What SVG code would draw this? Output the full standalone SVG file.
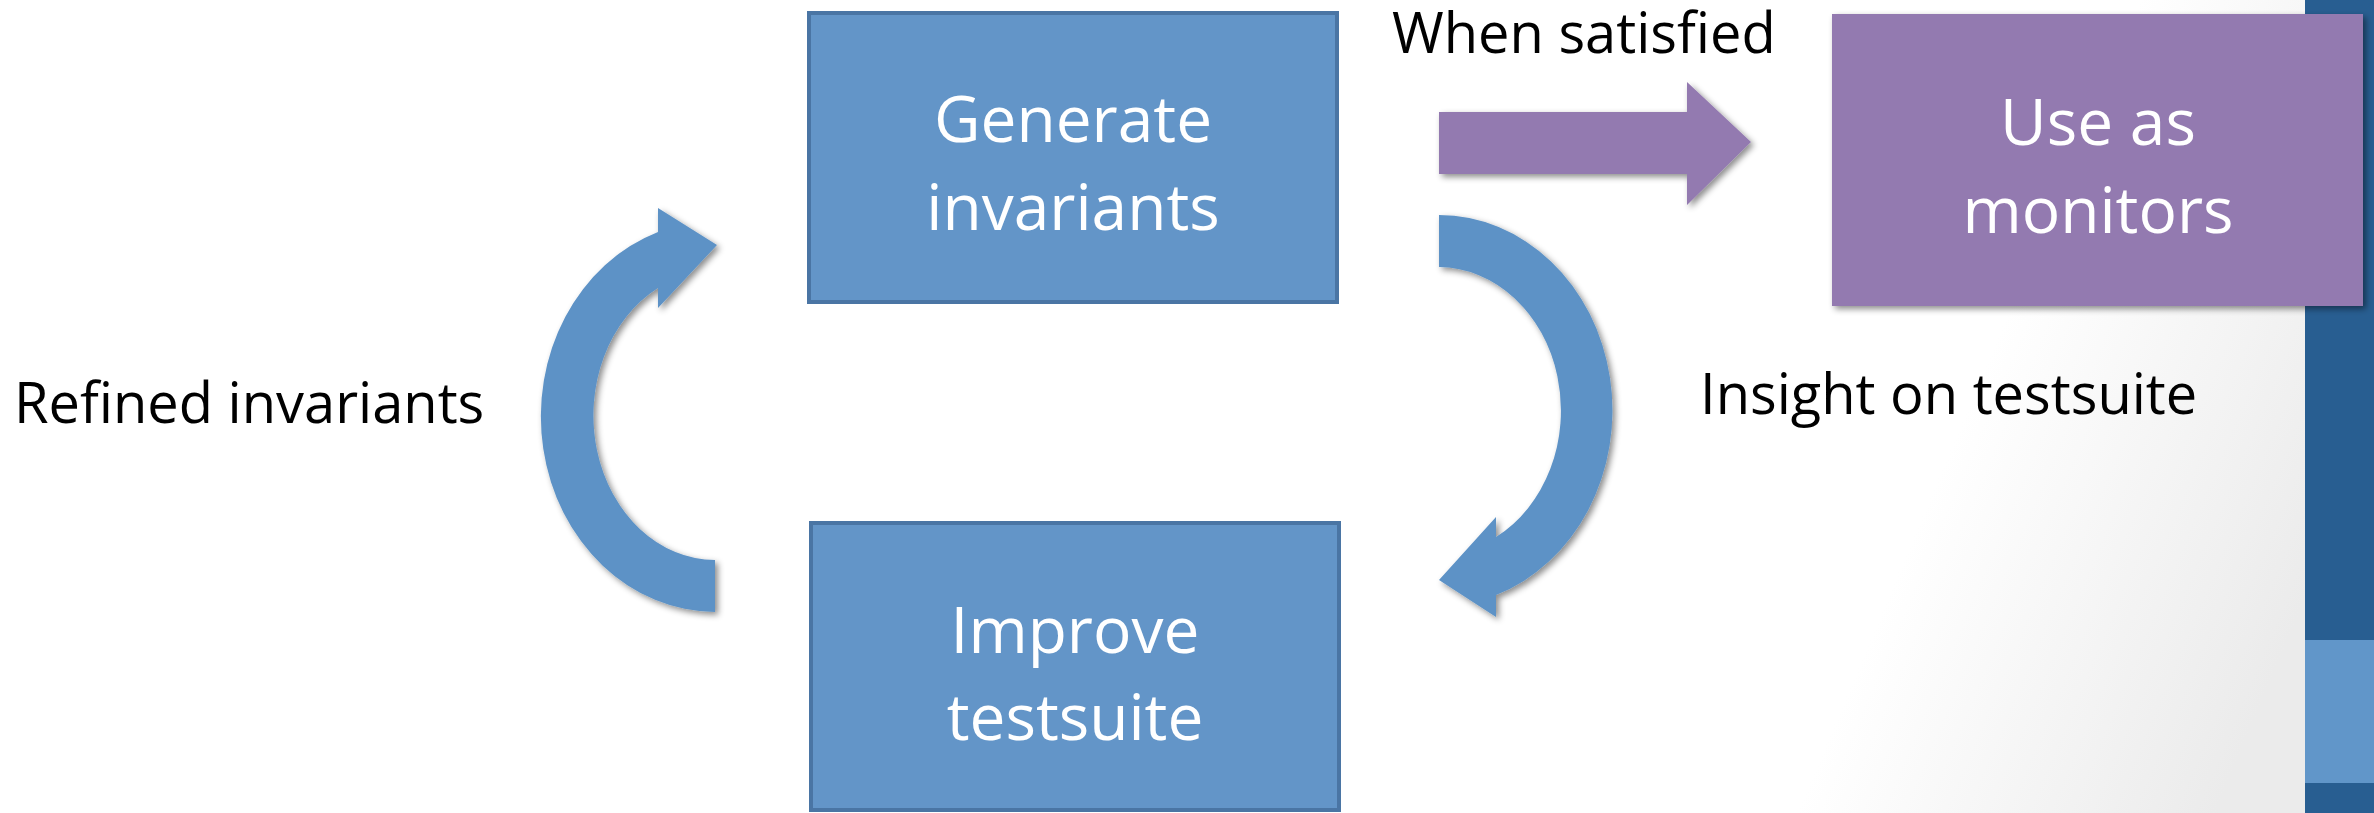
<svg xmlns="http://www.w3.org/2000/svg" width="2374" height="813" viewBox="0 0 2374 813">
  <defs>
    <linearGradient id="bgGrad" gradientUnits="userSpaceOnUse" x1="1950" y1="450" x2="2305" y2="600">
      <stop offset="0" stop-color="#ffffff"/>
      <stop offset="1" stop-color="#ebebeb"/>
    </linearGradient>
    <filter id="shadow" x="-10%" y="-10%" width="130%" height="130%">
      <feDropShadow dx="3" dy="3" stdDeviation="3" flood-color="#000" flood-opacity="0.45"/>
    </filter>
    <style>
      .box { fill: #6395c8; stroke: #4a75a4; stroke-width: 4; }
      .pbox { fill: #937ab0; }
      .barrow { fill: #5d92c6; }
      .parrow { fill: #937ab0; }
      .ntext { font-family: "Open Sans", "Liberation Sans", sans-serif; font-size: 64px; fill: #ffffff; text-anchor: middle; }
      .label { font-family: "Open Sans", "Liberation Sans", sans-serif; font-size: 56px; fill: #000000; }
    </style>
  </defs>

  <!-- background -->
  <rect x="0" y="0" width="2374" height="813" fill="url(#bgGrad)"/>
  <rect x="2305" y="0" width="69" height="813" fill="#285e91"/>
  <rect x="2305" y="640" width="69" height="143" fill="#6196c9"/>

  <!-- connectors -->
  <g id="connectors">
    <path id="arrow-refined" class="barrow" filter="url(#shadow)"
      d="M 715 560 L 715 612 A 175 195.5 0 0 1 658 232 L 658 208 L 717 245 L 658 308 L 658 288 A 122 144.5 0 0 0 715 560 Z"/>
    <path id="arrow-insight" class="barrow" filter="url(#shadow)"
      d="M 1439 215 A 174 195.5 0 0 1 1496 595 L 1496 617 L 1439 580 L 1496 517 L 1496 537 A 123 143.5 0 0 0 1439 267 Z"/>
    <path id="arrow-satisfied" class="parrow" filter="url(#shadow)"
      d="M 1439 112 L 1687 112 L 1687 82 L 1751 142 L 1687 205 L 1687 174 L 1439 174 Z"/>
    <text class="label" x="14" y="423">Refined invariants</text>
    <text class="label" x="1700" y="414">Insight on testsuite</text>
    <text class="label" x="1392" y="53">When satisfied</text>
  </g>

  <!-- nodes -->
  <g id="node-generate">
    <rect class="box" x="809" y="13" width="528" height="289"/>
    <text class="ntext" x="1073" y="142">Generate</text>
    <text class="ntext" x="1073" y="230">invariants</text>
  </g>

  <g id="node-improve">
    <rect class="box" x="811" y="523" width="528" height="287"/>
    <text class="ntext" x="1075" y="653">Improve</text>
    <text class="ntext" x="1075" y="740">testsuite</text>
  </g>

  <g id="node-monitors">
    <rect class="pbox" x="1832" y="14" width="531" height="292" filter="url(#shadow)"/>
    <text class="ntext" x="2098" y="145">Use as</text>
    <text class="ntext" x="2098" y="233">monitors</text>
  </g>
</svg>
